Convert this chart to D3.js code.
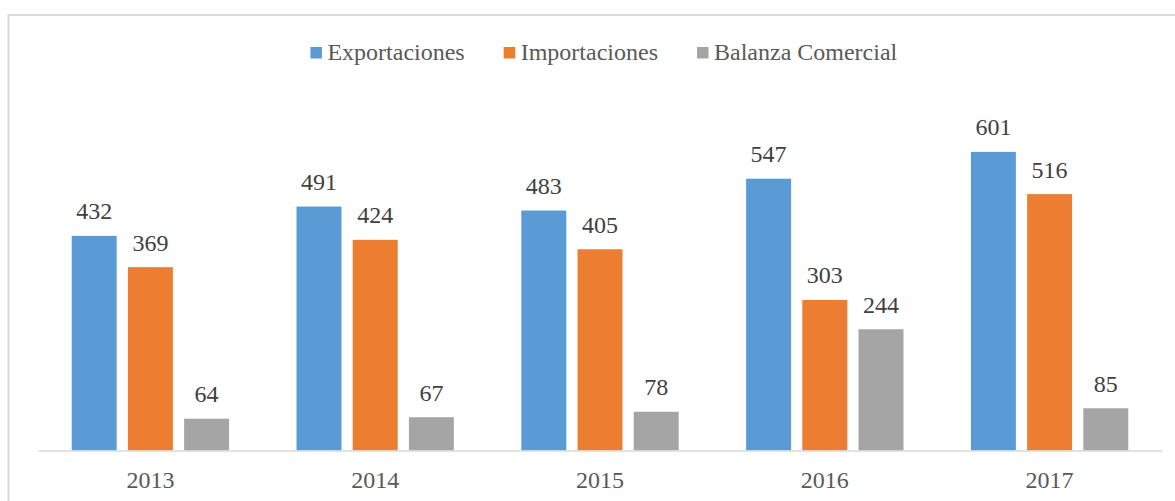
<!DOCTYPE html>
<html>
<head>
<meta charset="utf-8">
<script src="https://cdn.jsdelivr.net/npm/d3@7"></script>
<style>
  html, body { margin: 0; padding: 0; background: #fff; }
  svg { display: block; }
</style>
</head>
<body>
<svg id="chart" width="1175" height="501"></svg>
<script>
// Trade figures by year
const years = ["2013", "2014", "2015", "2016", "2017"];
const seriesNames = ["Exportaciones", "Importaciones", "Balanza Comercial"];
const exportaciones = [432, 491, 483, 547, 601];
const importaciones = [369, 424, 405, 303, 516];
const balanza = [64, 67, 78, 244, 85];
const colors = ["#5B9BD5", "#ED7D31", "#A5A5A5"];

const seriesValues = [exportaciones, importaciones, balanza];
const SERIF = "Liberation Serif";

const W = 1175, H = 501;
const svg = d3.select("#chart");

// outer frame (runs off the right and bottom edges)
svg.append("rect")
  .attr("x", 8.5).attr("y", 15)
  .attr("width", W + 20).attr("height", H + 20)
  .attr("fill", "#fff")
  .attr("stroke", "#d9d9d9")
  .attr("stroke-width", 2);

const plot = { left: 38, right: 1162, top: 102.7, bottom: 450.5 };

const x0 = d3.scaleBand().domain(years).range([plot.left, plot.right]).padding(0);
const groupW = x0.bandwidth() * 0.70;
const x1 = d3.scaleBand().domain(seriesNames).range([0, groupW]).paddingInner(0.2).paddingOuter(0);
const y = d3.scaleLinear().domain([0, 700]).range([plot.bottom, plot.top]);

const rows = years.map((yr, i) => ({
  year: yr,
  vals: seriesNames.map((s, k) => ({ key: s, value: seriesValues[k][i], color: colors[k] }))
}));

const groups = svg.append("g").selectAll("g")
  .data(rows).join("g")
  .attr("transform", d => `translate(${x0(d.year) + (x0.bandwidth() - groupW) / 2},0)`);

groups.selectAll("rect")
  .data(d => d.vals).join("rect")
  .attr("x", d => x1(d.key))
  .attr("width", x1.bandwidth())
  .attr("y", d => y(d.value))
  .attr("height", d => y(0) - y(d.value))
  .attr("fill", d => d.color);

groups.selectAll("text.val")
  .data(d => d.vals).join("text")
  .attr("class", "val")
  .attr("x", d => x1(d.key) + x1.bandwidth() / 2)
  .attr("y", d => y(d.value) - 16.5)
  .attr("text-anchor", "middle")
  .attr("font-family", SERIF)
  .attr("font-size", 24)
  .attr("fill", "#404040")
  .text(d => d.value);

// category axis
const xAxis = svg.append("g")
  .attr("transform", `translate(0,${plot.bottom})`)
  .call(d3.axisBottom(x0).tickSize(0).tickPadding(20));
xAxis.attr("font-family", SERIF);
xAxis.select(".domain").attr("stroke", "#d9d9d9").attr("stroke-width", 1.5);
xAxis.selectAll(".tick text")
  .attr("font-family", SERIF)
  .attr("font-size", 24)
  .attr("fill", "#595959");

// legend
const legend = svg.append("g");
const items = legend.selectAll("g").data(seriesNames).join("g");
items.append("rect")
  .attr("width", 11.5).attr("height", 11.5)
  .attr("y", 47)
  .attr("fill", (d, i) => colors[i]);
items.append("text")
  .attr("x", 17)
  .attr("y", 60)
  .attr("font-family", SERIF)
  .attr("font-size", 24)
  .attr("fill", "#595959")
  .text(d => d);
const gap = 39;
const widths = items.nodes().map(n => n.getBBox().width);
const total = d3.sum(widths) + gap * (widths.length - 1);
let start = 604 - total / 2;
items.attr("transform", (d, i) => {
  const tx = start;
  start += widths[i] + gap;
  return `translate(${tx},0)`;
});
</script>
</body>
</html>
